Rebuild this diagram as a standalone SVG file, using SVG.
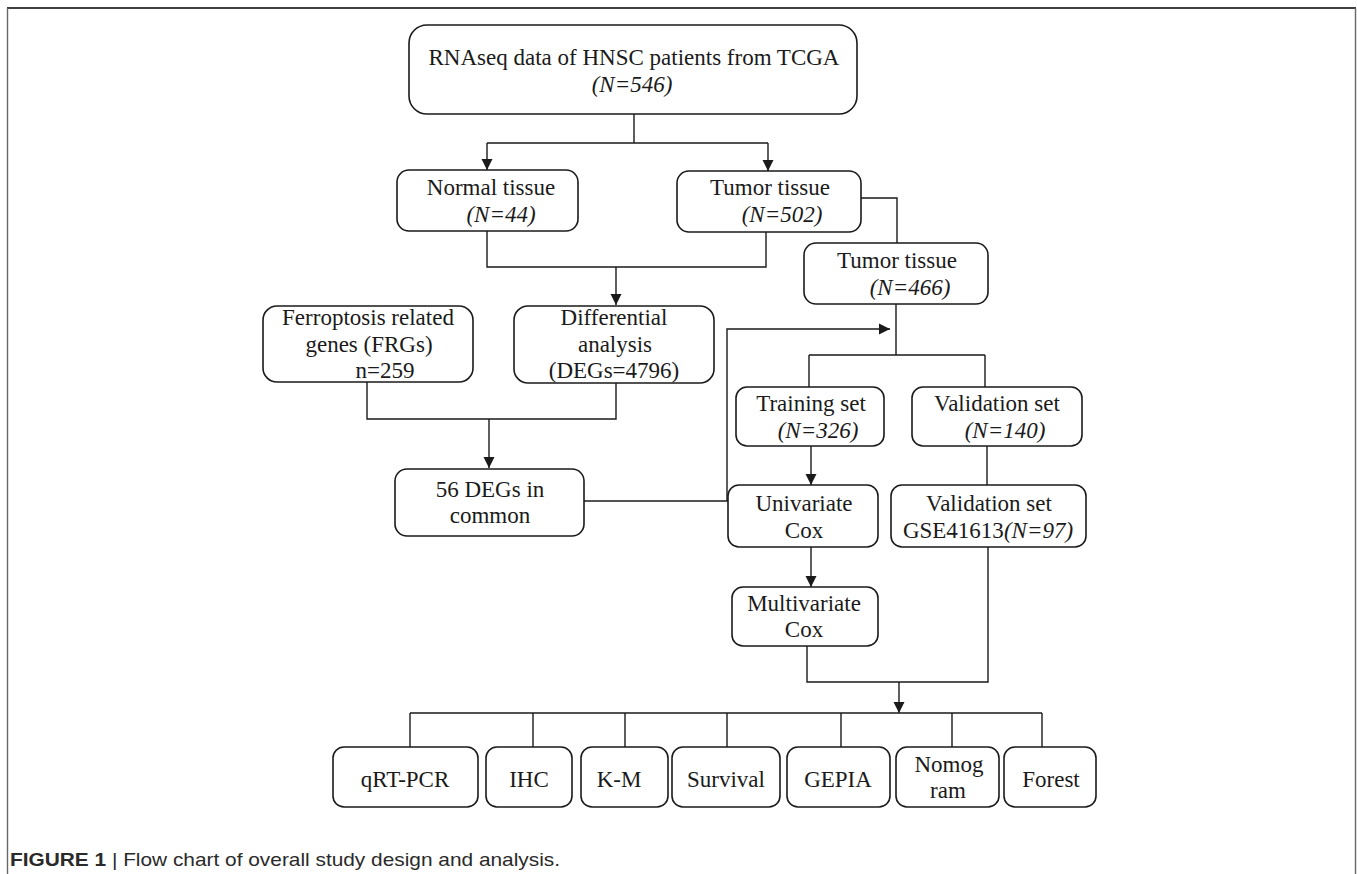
<svg xmlns="http://www.w3.org/2000/svg" width="1357" height="874" viewBox="0 0 1357 874">
<style>
.box{fill:#fff;stroke:#1a1a1a;stroke-width:1.6}
.t{font-family:"Liberation Serif","Times New Roman",serif;font-size:23px;fill:#1a1a1a;text-anchor:middle}
.i{font-style:italic}
.c{fill:none;stroke:#1a1a1a;stroke-width:1.4}
.cap{font-family:"Liberation Sans",Arial,sans-serif;font-size:19px;fill:#2a2a2a}
</style>
<defs>
<marker id="ah" markerWidth="12" markerHeight="12" refX="11" refY="6" orient="auto" markerUnits="userSpaceOnUse">
<path d="M0,0.5 L11,6 L0,11.5 Z" fill="#1a1a1a"/>
</marker>
</defs>
<rect width="1357" height="874" fill="#fff"/>
<g id="frame">
<line x1="7" y1="8" x2="1356" y2="8" stroke="#000" stroke-width="1.6"/>
<line x1="7.5" y1="8" x2="7.5" y2="874" stroke="#666" stroke-width="1.4"/>
<line x1="1355.5" y1="8" x2="1355.5" y2="874" stroke="#666" stroke-width="1.4"/>
</g>
<g id="connectors">
<path class="c" d="M634,114 V143 M487,143 H768"/>
<path class="c" d="M487,143 V170" marker-end="url(#ah)"/>
<path class="c" d="M768,143 V171" marker-end="url(#ah)"/>
<path class="c" d="M861,198 H897 V243"/>
<path class="c" d="M487,231 V267 H766 V232"/>
<path class="c" d="M616,267 V305" marker-end="url(#ah)"/>
<path class="c" d="M367,382 V419 H616 V383"/>
<path class="c" d="M489,419 V468" marker-end="url(#ah)"/>
<path class="c" d="M584,501 H728"/>
<path class="c" d="M727,501 V329 H890" marker-end="url(#ah)"/>
<path class="c" d="M896,304 V355 M809,355 H985 M809,355 V387 M985,355 V387"/>
<path class="c" d="M811,446 V485" marker-end="url(#ah)"/>
<path class="c" d="M987,446 V485"/>
<path class="c" d="M811,547 V587" marker-end="url(#ah)"/>
<path class="c" d="M807,646 V682 H988 V547"/>
<path class="c" d="M899,682 V713" marker-end="url(#ah)"/>
<path class="c" d="M410,713 H1042 M410,713 V747 M533,713 V747 M625,713 V747 M727,713 V747 M841,713 V747 M952,713 V747 M1042,713 V747"/>
</g>
<g id="n-tcga">
<rect class="box" x="409" y="25" width="448" height="89" rx="18"/>
<text class="t" x="634" y="65">RNAseq data of HNSC patients from TCGA</text>
<text class="t i" x="632" y="92">(N=546)</text>
</g>
<g id="n-normal">
<rect class="box" x="397" y="170" width="181" height="61" rx="12"/>
<text class="t" x="491" y="195">Normal tissue</text>
<text class="t i" x="501" y="222">(N=44)</text>
</g>
<g id="n-tumor502">
<rect class="box" x="677" y="171" width="184" height="61" rx="12"/>
<text class="t" x="770" y="195">Tumor tissue</text>
<text class="t i" x="782" y="222">(N=502)</text>
</g>
<g id="n-tumor466">
<rect class="box" x="804" y="243" width="184" height="61" rx="12"/>
<text class="t" x="897" y="268">Tumor tissue</text>
<text class="t i" x="910" y="295">(N=466)</text>
</g>
<g id="n-frg">
<rect class="box" x="263" y="306" width="210" height="76" rx="14"/>
<text class="t" x="368" y="325">Ferroptosis related</text>
<text class="t" x="369" y="352">genes (FRGs)</text>
<text class="t" x="385" y="378">n=259</text>
</g>
<g id="n-diff">
<rect class="box" x="514" y="306" width="200" height="77" rx="14"/>
<text class="t" x="614" y="325">Differential</text>
<text class="t" x="615" y="352">analysis</text>
<text class="t" x="614" y="378">(DEGs=4796)</text>
</g>
<g id="n-common">
<rect class="box" x="395" y="469" width="189" height="67" rx="12"/>
<text class="t" x="490" y="497">56 DEGs in</text>
<text class="t" x="490" y="523">common</text>
</g>
<g id="n-training">
<rect class="box" x="736" y="387" width="148" height="59" rx="11"/>
<text class="t" x="811" y="411">Training set</text>
<text class="t i" x="818" y="438">(N=326)</text>
</g>
<g id="n-validation">
<rect class="box" x="912" y="387" width="170" height="59" rx="11"/>
<text class="t" x="997" y="411">Validation set</text>
<text class="t i" x="1005" y="438">(N=140)</text>
</g>
<g id="n-univariate">
<rect class="box" x="728" y="485" width="150" height="62" rx="11"/>
<text class="t" x="804" y="511">Univariate</text>
<text class="t" x="804" y="538">Cox</text>
</g>
<g id="n-gse">
<rect class="box" x="891" y="485" width="195" height="62" rx="11"/>
<text class="t" x="989" y="511">Validation set</text>
<text class="t" x="988" y="538">GSE41613<tspan font-style="italic">(N=97)</tspan></text>
</g>
<g id="n-multivariate">
<rect class="box" x="732" y="587" width="146" height="59" rx="11"/>
<text class="t" x="804" y="611">Multivariate</text>
<text class="t" x="804" y="637">Cox</text>
</g>
<g id="n-qrtpcr">
<rect class="box" x="333" y="747" width="145" height="60" rx="11"/>
<text class="t" x="405" y="787">qRT-PCR</text>
</g>
<g id="n-ihc">
<rect class="box" x="486" y="747" width="86" height="60" rx="11"/>
<text class="t" x="529" y="787">IHC</text>
</g>
<g id="n-km">
<rect class="box" x="581" y="747" width="87" height="60" rx="11"/>
<text class="t" x="619" y="787">K-M</text>
</g>
<g id="n-survival">
<rect class="box" x="672" y="747" width="108" height="60" rx="11"/>
<text class="t" x="726" y="787">Survival</text>
</g>
<g id="n-gepia">
<rect class="box" x="787" y="747" width="103" height="60" rx="11"/>
<text class="t" x="838" y="787">GEPIA</text>
</g>
<g id="n-nomogram">
<rect class="box" x="896" y="747" width="103" height="60" rx="11"/>
<text class="t" x="949" y="772">Nomog</text>
<text class="t" x="948" y="798">ram</text>
</g>
<g id="n-forest">
<rect class="box" x="1004" y="747" width="92" height="60" rx="11"/>
<text class="t" x="1051" y="787">Forest</text>
</g>
<g id="caption">
<text class="cap" x="10" y="866" textLength="550" lengthAdjust="spacingAndGlyphs"><tspan font-weight="bold">FIGURE 1</tspan> | Flow chart of overall study design and analysis.</text>
</g>
</svg>
